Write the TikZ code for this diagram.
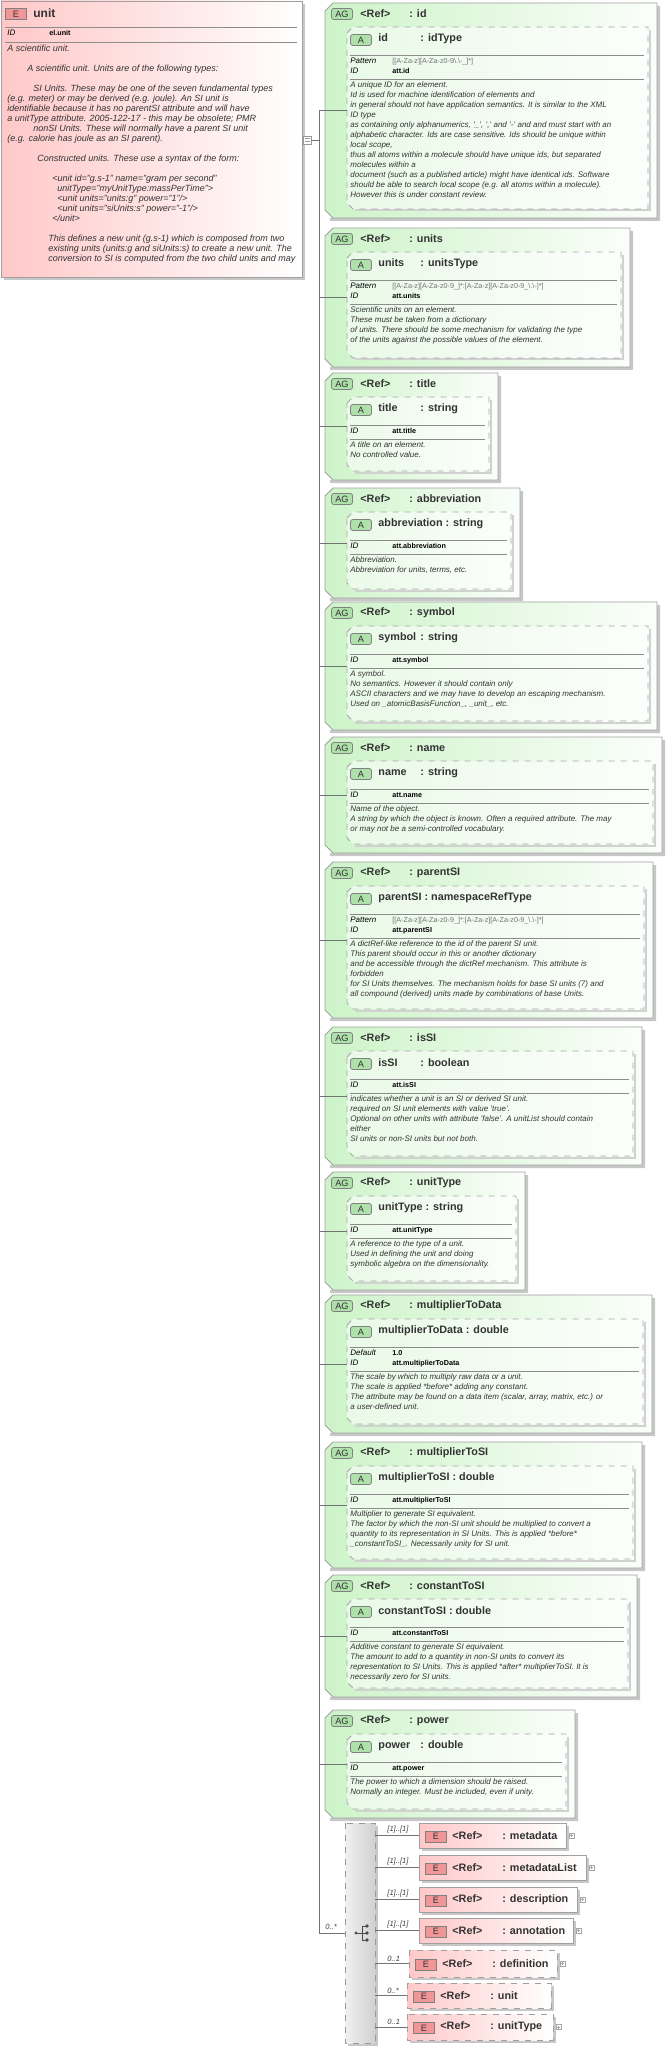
\documentclass[tikz,border=0pt]{standalone}
\usepackage{fontspec}
\setmainfont{Liberation Sans}
\definecolor{agfill}{RGB}{205,243,200}
\definecolor{elfill}{RGB}{255,200,200}
\definecolor{badgeG}{RGB}{175,225,170}
\definecolor{badgeE}{RGB}{240,150,150}
\definecolor{edge}{RGB}{160,160,160}
\tikzset{
 agshape/.style={draw=edge, left color=agfill, right color=white!92!agfill, line width=0.4pt},
 innerbox/.style={draw=black!35, dashed, fill=white, fill opacity=0.55, line width=0.4pt},
 conn/.style={draw=black!55, line width=0.35pt},
 hdr/.style={font=\fontsize{5.4}{6}\selectfont\bfseries, text=black!80, inner sep=0, anchor=west},
 desc/.style={font=\fontsize{4}{5}\selectfont\itshape, text=black!80, inner sep=0, anchor=north west, align=left},
 props/.style={font=\fontsize{4}{5}\selectfont, text=black, inner sep=0, anchor=north west, align=left},
 badgeg/.style={draw=black!50, fill=badgeG, rounded corners=1.2pt, minimum width=10.5pt, minimum height=5.5pt, inner sep=0, font=\fontsize{4.6}{5}\selectfont, text=black!80},
 badgee/.style={draw=black!50, fill=badgeE, minimum width=10.5pt, minimum height=5.5pt, inner sep=0, font=\fontsize{4.6}{5}\selectfont, text=black!80},
 elbox/.style={draw=edge, left color=elfill, right color=white, line width=0.4pt},
 lbl/.style={font=\fontsize{3.8}{4}\selectfont\itshape, text=black!75, inner sep=0, anchor=south west},
}
\newcommand\padname[1]{\settowidth{\dimen0}{#1}\ifdim\dimen0<19pt\makebox[21pt][l]{#1}\else#1\ \fi}
\newcommand\prow[2]{\makebox[21pt][l]{\itshape #1}#2}
\newcommand\patt[1]{\textcolor{black!55}{\fontsize{3.6}{5}\selectfont #1}}
\newcommand\idv[1]{{\fontsize{3.6}{5}\selectfont\bfseries #1}}
\newcommand\agbox[8]{%
 \pgfmathsetmacro\agT{#3}\pgfmathsetmacro\agB{#4}\pgfmathsetmacro\agR{#5}%
 \pgfmathsetmacro\agIR{#5-9}\pgfmathsetmacro\agIB{#4-9}%
 \pgfmathsetmacro\agLA{#3+52}\pgfmathsetmacro\agLB{#3+56+10*#6}%
 \pgfmathsetmacro\agM{(#3+#4)/2}%
 \fill[black!22] (\agR,\agT+3) -- (\agR+3,\agT+3) -- (\agR+3,\agB+3) -- (330,\agB+3) -- (330,\agB) -- (\agR,\agB) -- cycle;
 \path[agshape] (325,\agT+8) -- (333,\agT) -- (\agR,\agT) -- (\agR,\agB) -- (333,\agB) -- (325,\agB-8) -- cycle;
 \draw[black!18, line width=1pt] (355,\agIB+1.5) -- (\agIR+1.5,\agIB+1.5) -- (\agIR+1.5,\agT+27);
 \path[innerbox] (347,\agT+30) -- (353,\agT+24) -- (\agIR,\agT+24) -- (\agIR,\agIB) -- (353,\agIB) -- (347,\agIB-6) -- cycle;
 \node[badgeg] (#1-agb) at (342,\agT+11) {AG};
 \node[hdr] (#1-ref) at (360,\agT+11) {\makebox[24.5pt][l]{<Ref>}: #1};
 \node[badgeg] (#1-ab) at (361,\agT+37) {A};
 \node[hdr] (#1-an) at (378,\agT+36) {\padname{#1}: #2};
 \draw[black!45, line width=0.35pt] (350,\agLA) -- (\agIR-4,\agLA);
 \node[props] (#1-props) at (350,\agLA+2.5) {#7};
 \draw[black!45, line width=0.35pt] (350,\agLB) -- (\agIR-4,\agLB);
 \node[desc] (#1-desc) at (350,\agLB+2) {#8};
 \coordinate (#1-in) at (347,\agM);
 \coordinate (#1-tr) at (319,\agM);
 \draw[conn] (#1-tr) -- (#1-in);
}
% key, x1, y1, x2, y2, name, label, dashed/solid, plus(1/0)
\newcommand\elbox[9]{%
 \pgfmathsetmacro\eM{(#3+#5)/2}%
 \fill[black!22] (#2+3,#3+3) rectangle (#4+3,#5+3);
 \path[elbox,#8] (#2,#3) rectangle (#4,#5);
 \node[badgee] (#1-eb) at (#2+17,\eM+1) {E};
 \node[hdr] (#1-n) at (#2+33,\eM) {\makebox[25pt][l]{<Ref>}: #6};
 \coordinate (#1-w) at (#2,\eM);
 \coordinate (#1-s) at (375,\eM);
 \draw[conn] (#1-s) -- (#1-w);
 \node[lbl] (#1-l) at (387,\eM-2) {#7};
 \ifnum#9=1 \draw[black!35, fill=white, line width=0.3pt] (#4+3,\eM-2.5) rectangle (#4+8,\eM+2.5);
 \draw[black!35, line width=0.3pt] (#4+4,\eM) -- (#4+7,\eM) (#4+5.5,\eM-1.5) -- (#4+5.5,\eM+1.5);\fi
}
\begin{document}
\begin{tikzpicture}[x=0.5pt,y=-0.5pt]
\useasboundingbox (0,0) rectangle (666,2048);
% main element
\fill[black!22] (4,4) rectangle (305,280);
\path[elbox] (1,1) rectangle (302,277);
\node[badgee] (main-eb) at (16,14) {E};
\node[hdr, font=\fontsize{6}{7}\selectfont\bfseries] (main-n) at (33,13) {unit};
\draw[black!45, line width=0.35pt] (5,27) -- (297,27);
\node[props] (main-id) at (7,30) {\prow{ID}{\idv{el.unit}}};
\draw[black!45, line width=0.35pt] (5,42) -- (297,42);
\node[desc, font=\fontsize{4.5}{5}\selectfont\itshape] (main-desc) at (7,45) {A scientific unit.\\ \mbox{}\\
\hspace*{10pt}A scientific unit. Units are of the following types:\\ \mbox{}\\
\hspace*{13pt}SI Units. These may be one of the seven fundamental types\\
(e.g. meter) or may be derived (e.g. joule). An SI unit is\\
identifiable because it has no parentSI attribute and will have\\
a unitType attribute. 2005-122-17 - this may be obsolete; PMR\\
\hspace*{13pt}nonSI Units. These will normally have a parent SI unit\\
(e.g. calorie has joule as an SI parent).\\ \mbox{}\\
\hspace*{15pt}Constructed units. These use a syntax of the form:\\ \mbox{}\\
\hspace*{22.5pt}<unit id="g.s-1" name="gram per second"\\
\hspace*{25pt}unitType="myUnitType:massPerTime">\\
\hspace*{25pt}<unit units="units:g" power="1"/>\\
\hspace*{25pt}<unit units="siUnits:s" power="-1"/>\\
\hspace*{22.5pt}</unit>\\ \mbox{}\\
\hspace*{20.5pt}This defines a new unit (g.s-1) which is composed from two\\
\hspace*{20.5pt}existing units (units:g and siUnits:s) to create a new unit. The\\
\hspace*{20.5pt}conversion to SI is computed from the two child units and may};
\draw[black!40, fill=white, line width=0.3pt] (303,136) rectangle (311,144);
\draw[black!40, line width=0.3pt] (304.5,138.5) -- (309.5,138.5) (304.5,141.5) -- (309.5,141.5);
\coordinate (main-c) at (311,140);
\coordinate (trunk-top) at (319,110);
\coordinate (trunk-bot) at (319,1933);
\draw[conn] (main-c) -- (319,140);
\draw[conn] (trunk-top) -- (trunk-bot);

\agbox{id}{idType}{3}{218}{657}{2}{\prow{Pattern}{\patt{[[A-Za-z][A-Za-z0-9\textbackslash.\textbackslash-\_]*]}}\\\prow{ID}{\idv{att.id}}}{A unique ID for an element.\\
Id is used for machine identification of elements and\\
in general should not have application semantics. It is similar to the XML\\
ID type\\
as containing only alphanumerics, '\_', ',' and '-' and and must start with an\\
alphabetic character. Ids are case sensitive. Ids should be unique within\\
local scope,\\
thus all atoms within a molecule should have unique ids, but separated\\
molecules within a\\
document (such as a published article) might have identical ids. Software\\
should be able to search local scope (e.g. all atoms within a molecule).\\
However this is under constant review.}

\agbox{units}{unitsType}{228}{367}{630}{2}{\prow{Pattern}{\patt{[[A-Za-z][A-Za-z0-9\_]*:[A-Za-z][A-Za-z0-9\_\textbackslash.\textbackslash-]*]}}\\\prow{ID}{\idv{att.units}}}{Scientific units on an element.\\
These must be taken from a dictionary\\
of units. There should be some mechanism for validating the type\\
of the units against the possible values of the element.}

\agbox{title}{string}{373}{480}{498}{1}{\prow{ID}{\idv{att.title}}}{A title on an element.\\
No controlled value.}

\agbox{abbreviation}{string}{488}{598}{520}{1}{\prow{ID}{\idv{att.abbreviation}}}{Abbreviation.\\
Abbreviation for units, terms, etc.}

\agbox{symbol}{string}{602}{730}{657}{1}{\prow{ID}{\idv{att.symbol}}}{A symbol.\\
No semantics. However it should contain only\\
ASCII characters and we may have to develop an escaping mechanism.\\
Used on \_atomicBasisFunction\_, \_unit\_, etc.}

\agbox{name}{string}{737}{853}{662}{1}{\prow{ID}{\idv{att.name}}}{Name of the object.\\
A string by which the object is known. Often a required attribute. The may\\
or may not be a semi-controlled vocabulary.}

\agbox{parentSI}{namespaceRefType}{862}{1018}{653}{2}{\prow{Pattern}{\patt{[[A-Za-z][A-Za-z0-9\_]*:[A-Za-z][A-Za-z0-9\_\textbackslash.\textbackslash-]*]}}\\\prow{ID}{\idv{att.parentSI}}}{A dictRef-like reference to the id of the parent SI unit.\\
This parent should occur in this or another dictionary\\
and be accessible through the dictRef mechanism. This attribute is\\
forbidden\\
for SI Units themselves. The mechanism holds for base SI units (7) and\\
all compound (derived) units made by combinations of base Units.}

\agbox{isSI}{boolean}{1027}{1165}{642}{1}{\prow{ID}{\idv{att.isSI}}}{indicates whether a unit is an SI or derived SI unit.\\
required on SI unit elements with value 'true'.\\
Optional on other units with attribute 'false'. A unitList should contain\\
either\\
SI units or non-SI units but not both.}

\agbox{unitType}{string}{1172}{1290}{525}{1}{\prow{ID}{\idv{att.unitType}}}{A reference to the type of a unit.\\
Used in defining the unit and doing\\
symbolic algebra on the dimensionality.}

\agbox{multiplierToData}{double}{1295}{1433}{652}{2}{\prow{Default}{\idv{1.0}}\\\prow{ID}{\idv{att.multiplierToData}}}{The scale by which to multiply raw data or a unit.\\
The scale is applied *before* adding any constant.\\
The attribute may be found on a data item (scalar, array, matrix, etc.) or\\
a user-defined unit.}

\agbox{multiplierToSI}{double}{1442}{1568}{642}{1}{\prow{ID}{\idv{att.multiplierToSI}}}{Multiplier to generate SI equivalent.\\
The factor by which the non-SI unit should be multiplied to convert a\\
quantity to its representation in SI Units. This is applied *before*\\
\_constantToSI\_. Necessarily unity for SI unit.}

\agbox{constantToSI}{double}{1575}{1697}{637}{1}{\prow{ID}{\idv{att.constantToSI}}}{Additive constant to generate SI equivalent.\\
The amount to add to a quantity in non-SI units to convert its\\
representation to SI Units. This is applied *after* multiplierToSI. It is\\
necessarily zero for SI units.}

\agbox{power}{double}{1710}{1818}{575}{1}{\prow{ID}{\idv{att.power}}}{The power to which a dimension should be raised.\\
Normally an integer. Must be included, even if unity.}

% sequence
\fill[black!22] (348,1826) rectangle (378,2046);
\path[draw=black!40, dashed, left color=black!6, right color=black!18, line width=0.4pt] (345,1823) rectangle (375,2043);
\coordinate (seq-w) at (345,1933);
\draw[conn] (trunk-bot) -- (seq-w);
\node[lbl] (seq-l) at (325,1930) {0..*};
\fill[black!70] (356,1933) circle (1.6);
\draw[black!70, line width=0.5pt] (356,1933) -- (362,1933) (362,1926) -- (362,1940) (362,1926) -- (366,1926) (362,1933) -- (366,1933) (362,1940) -- (366,1940);
\fill[black!70] (367,1926) circle (1.8) (367,1933) circle (1.8) (367,1940) circle (1.8);

\elbox{metadata}{419}{1823}{566}{1848}{metadata}{[1]..[1]}{solid}{1}
\elbox{metadataList}{419}{1855}{586}{1880}{metadataList}{[1]..[1]}{solid}{1}
\elbox{description}{419}{1887}{577}{1912}{description}{[1]..[1]}{solid}{1}
\elbox{annotation}{419}{1918}{573}{1943}{annotation}{[1]..[1]}{solid}{1}
\elbox{definition}{409}{1950}{557}{1977}{definition}{0..1}{dashed}{1}
\elbox{unitel}{407}{1983}{551}{2008}{unit}{0..*}{dashed}{0}
\elbox{unitTypeel}{407}{2014}{553}{2040}{unitType}{0..1}{dashed}{1}
\end{tikzpicture}
\end{document}
